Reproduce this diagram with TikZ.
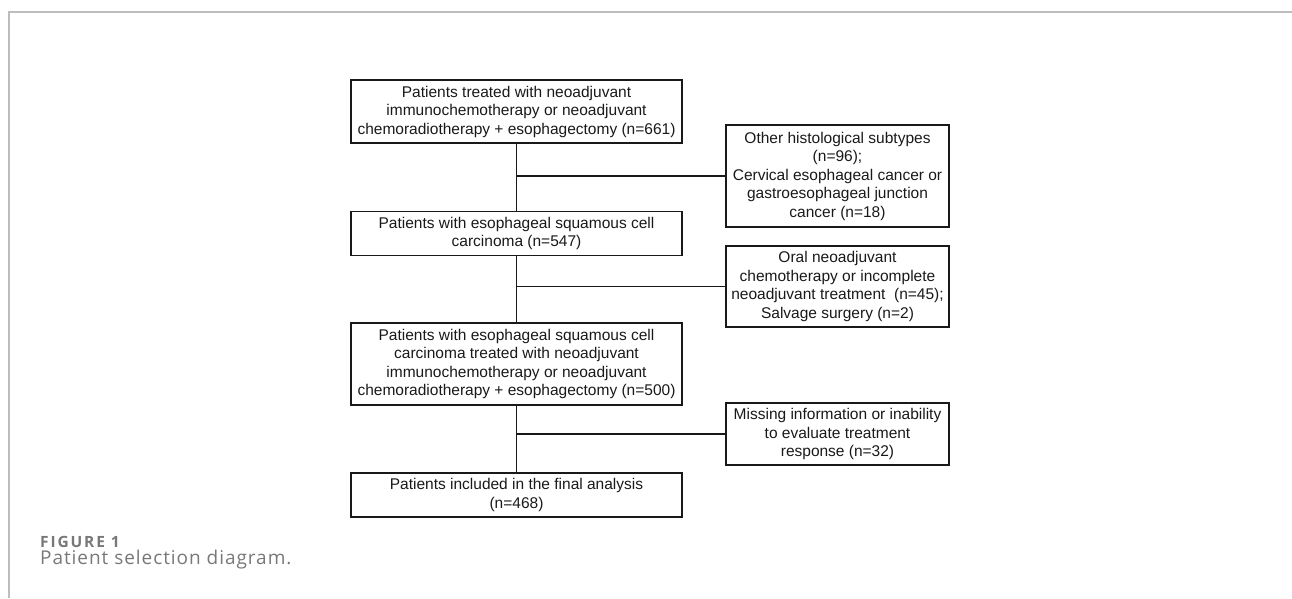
\documentclass[tikz,border=0pt]{standalone}
\usepackage{fontspec}
\setmainfont{Liberation Sans}
\newfontfamily\capfont[LetterSpace=5]{Open Sans}
\newfontfamily\figfont[LetterSpace=12]{Open Sans}
\usetikzlibrary{positioning}
\definecolor{rahmen}{HTML}{BDBDBD}
\definecolor{captxt}{HTML}{787878}
\tikzset{
  Kasten/.style={draw=black!90, line width=1.6pt, align=center, inner sep=0pt,
    minimum width=331pt, text=black!90, font=\fontsize{15.5}{18.5}\selectfont}, % Hauptkasten
  AKasten/.style={Kasten, minimum width=223pt}, % Ausschlusskasten
  Linie/.style={line width=1.6pt, draw=black!90}, % Verbindungen
  Titel/.style={anchor=base west, inner sep=0pt, text=captxt}
}
\begin{document}
\begin{tikzpicture}[x=1pt, y=-1pt]
\useasboundingbox (0,0) rectangle (1292,598);

%Rahmen
\draw[rahmen, line width=1.5pt] (9,598) -- (9,12) -- (1292,12);

%Hauptkaesten
\node[Kasten, minimum height=63pt] (A) at (516.5,111.5)
  {Patients treated with neoadjuvant\\immunochemotherapy or neoadjuvant\\chemoradiotherapy + esophagectomy (n=661)};
\node[Kasten, minimum height=44pt, below=67pt of A] (B)
  {Patients with esophageal squamous cell\\carcinoma (n=547)};
\node[Kasten, minimum height=82pt, below=66pt of B] (C)
  {Patients with esophageal squamous cell\\carcinoma treated with neoadjuvant\\immunochemotherapy or neoadjuvant\\chemoradiotherapy + esophagectomy (n=500)};
\node[Kasten, minimum height=44pt, below=66pt of C] (D)
  {Patients included in the final analysis\\(n=468)};

%Ausschluesse
\node[AKasten, minimum height=102pt] (E1) at (837.5,176)
  {Other histological subtypes\\(n=96);\\Cervical esophageal cancer or\\gastroesophageal junction\\cancer (n=18)};
\node[AKasten, minimum height=81pt] (E2) at (837.5,286.5)
  {Oral neoadjuvant\\chemotherapy or incomplete\\neoadjuvant treatment\ \ (n=45);\\Salvage surgery (n=2)};
\node[AKasten, minimum height=62pt] (E3) at (837.5,434)
  {Missing information or inability\\to evaluate treatment\\response (n=32)};

%Verbindungen
\draw[Linie] (A) -- (B);
\draw[Linie] (B) -- (C);
\draw[Linie] (C) -- (D);
\draw[Linie] (E1.west) -- (E1.west -| A.south);
\draw[Linie] (E2.west) -- (E2.west -| B.south);
\draw[Linie] (E3.west) -- (E3.west -| C.south);

%Bildunterschrift
\node[Titel, font=\figfont\bfseries\fontsize{15.5}{18}\selectfont] (fig) at (40,547) {FIGURE 1};
\node[Titel, font=\capfont\fontsize{19}{22}\selectfont] (cap) at (40,564) {Patient selection diagram.};
\end{tikzpicture}
\end{document}
